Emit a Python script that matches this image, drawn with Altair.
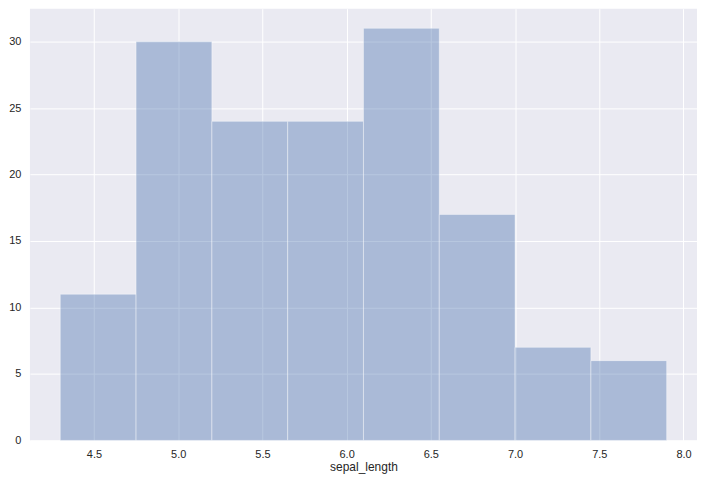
import altair as alt
import pandas as pd

bin_left = [4.3, 4.75, 5.2, 5.65, 6.1, 6.55, 7.0, 7.45]
bin_right = [4.75, 5.2, 5.65, 6.1, 6.55, 7.0, 7.45, 7.9]
counts = [11, 30, 24, 24, 31, 17, 7, 6]
x_ticks = [4.5, 5.0, 5.5, 6.0, 6.5, 7.0, 7.5, 8.0]
y_ticks = [0, 5, 10, 15, 20, 25, 30]

df = pd.DataFrame({"left": bin_left, "right": bin_right, "count": counts})

FONT = "Liberation Sans"

chart = alt.Chart(df).mark_rect(
    fill="#4C72B0", fillOpacity=0.4, stroke="white", strokeOpacity=0.5, strokeWidth=0.8
).encode(
    x=alt.X("left:Q", scale=alt.Scale(domain=[4.12, 8.08], nice=False, zero=False),
            axis=alt.Axis(values=x_ticks, format=".1f", title="sepal_length",
                          labelPadding=8, titlePadding=2)),
    x2="right:Q",
    y=alt.Y("count:Q", scale=alt.Scale(domain=[0, 32.475], nice=False),
            axis=alt.Axis(values=y_ticks, title=None, labelPadding=9)),
).properties(
    width=669, height=433,
    autosize=alt.AutoSizeParams(type="none"),
    padding={"left": 22, "top": 0, "right": 0, "bottom": 33},
).configure_view(
    fill="#EAEAF2", stroke=None
).configure_axis(
    grid=True, gridColor="white", gridWidth=1, gridOpacity=1,
    domain=False, ticks=False,
    labelFont=FONT, labelFontSize=11, labelColor="#262626",
    titleFont=FONT, titleFontSize=12, titleColor="#262626", titleFontWeight="normal",
)

chart.save("out.html", embed_options={"renderer": "svg", "actions": False})
